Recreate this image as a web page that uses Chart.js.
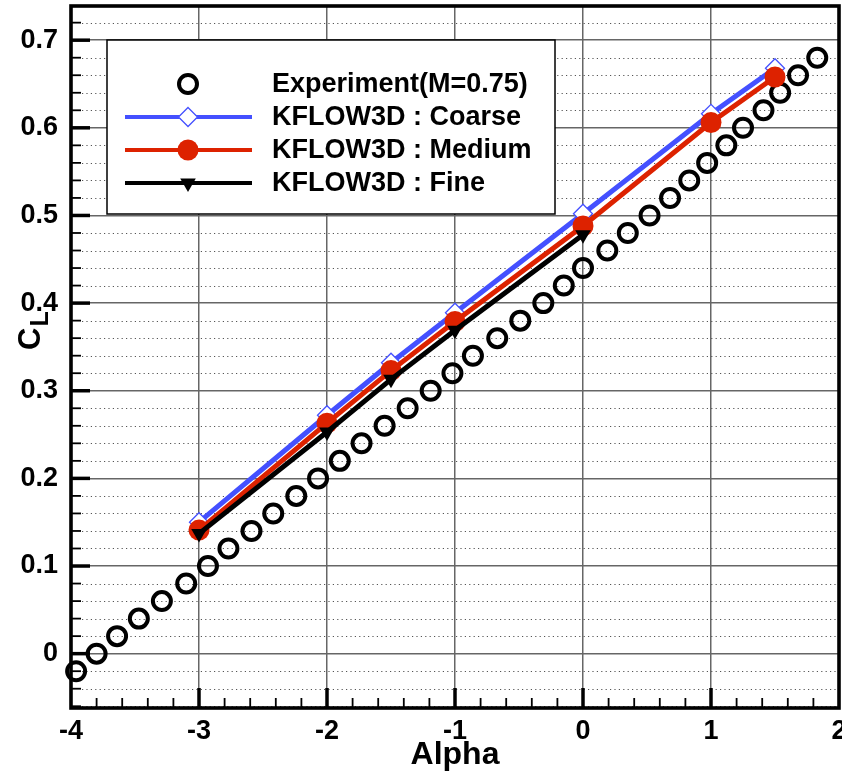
<!DOCTYPE html>
<html><head><meta charset="utf-8">
<script src="https://cdn.jsdelivr.net/npm/chart.js@4.4.1/dist/chart.umd.min.js"></script>
<style>html,body{margin:0;padding:0;background:#fff;} canvas{display:block;}</style>
</head><body>
<canvas id="c" width="842" height="774"></canvas>
<script>
// ---- data ----
const expAlpha = [-3.96,-3.8,-3.64,-3.47,-3.29,-3.1,-2.93,-2.77,-2.59,-2.42,-2.24,-2.07,-1.9,-1.73,-1.55,-1.37,-1.19,-1.02,-0.86,-0.67,-0.49,-0.31,-0.15,0.0,0.19,0.35,0.52,0.68,0.83,0.97,1.12,1.25,1.41,1.54,1.68,1.83];
const expCL = [-0.02,0.0,0.02,0.04,0.06,0.08,0.10,0.12,0.14,0.16,0.18,0.20,0.22,0.24,0.26,0.28,0.30,0.32,0.34,0.36,0.38,0.40,0.42,0.44,0.46,0.48,0.50,0.52,0.54,0.56,0.58,0.60,0.62,0.64,0.66,0.68];
const simAlpha = [-3,-2,-1.5,-1,0,1,1.5];
const coarseCL = [0.150,0.272,0.332,0.389,0.502,0.616,0.668];
const mediumCL = [0.141,0.263,0.323,0.379,0.488,0.606,0.658];
const fineAlpha = [-3,-2,-1.5,-1,0];
const fineCL = [0.137,0.253,0.313,0.369,0.478];
const xTicks = [-4,-3,-2,-1,0,1,2];
const xTickLabels = ['-4','-3','-2','-1','0','1','2'];
const yTicks = [0,0.1,0.2,0.3,0.4,0.5,0.6,0.7];
const yTickLabels = ['0','0.1','0.2','0.3','0.4','0.5','0.6','0.7'];
const seriesNames = ['Experiment(M=0.75)','KFLOW3D : Coarse','KFLOW3D : Medium','KFLOW3D : Fine'];
const xRange = [-4, 2];
const yRange = [-0.062, 0.739];
const xMinorStep = 0.2, yMinorStep = 0.02;

const FONT = '"Liberation Sans", Arial, Helvetica, sans-serif';
Chart.defaults.font.family = FONT;
Chart.defaults.color = '#000';

const toXY = (xs, ys) => xs.map((x, i) => ({x: x, y: ys[i]}));

function drawMarker(ctx, style, x, y, r, rot, fill, stroke, bw) {
  ctx.save();
  ctx.translate(x, y);
  ctx.rotate(rot * Math.PI / 180);
  ctx.beginPath();
  if (style === 'circle') {
    ctx.arc(0, 0, r, 0, Math.PI * 2);
  } else if (style === 'rectRot') {
    ctx.moveTo(0, -r); ctx.lineTo(r, 0); ctx.lineTo(0, r); ctx.lineTo(-r, 0); ctx.closePath();
  } else if (style === 'triangle') {
    for (let k = 0; k < 3; k++) {
      const a = k * 2 * Math.PI / 3;
      const px = Math.sin(a) * r, py = -Math.cos(a) * r;
      if (k === 0) ctx.moveTo(px, py); else ctx.lineTo(px, py);
    }
    ctx.closePath();
  }
  if (fill && fill !== 'transparent') { ctx.fillStyle = fill; ctx.fill(); }
  if (bw > 0) { ctx.lineWidth = bw; ctx.strokeStyle = stroke; ctx.stroke(); }
  ctx.restore();
}

const decor = {
  id: 'decor',
  beforeDatasetsDraw(chart) {
    const {ctx, chartArea: a, scales: {x, y}} = chart;
    ctx.save();
    // dotted minor horizontal grid
    ctx.strokeStyle = '#555';
    ctx.lineWidth = 1;
    ctx.setLineDash([1.2, 3.2]);
    const kMin = Math.ceil(yRange[0] / yMinorStep), kMax = Math.floor(yRange[1] / yMinorStep);
    for (let k = kMin; k <= kMax; k++) {
      if (k % 5 === 0) continue;
      const py = Math.round(y.getPixelForValue(k * yMinorStep)) + 0.5;
      ctx.beginPath(); ctx.moveTo(a.left + 11, py); ctx.lineTo(a.right, py); ctx.stroke();
    }
    ctx.setLineDash([]);
    ctx.strokeStyle = '#000';
    // left axis ticks (inward)
    for (let k = kMin; k <= kMax; k++) {
      const py = y.getPixelForValue(k * yMinorStep);
      const major = k % 5 === 0;
      ctx.lineWidth = major ? 3.5 : 1.8;
      ctx.beginPath(); ctx.moveTo(a.left, py); ctx.lineTo(a.left + (major ? 19 : 10), py); ctx.stroke();
    }
    // bottom axis ticks (inward)
    const jMin = Math.round(xRange[0] / xMinorStep), jMax = Math.round(xRange[1] / xMinorStep);
    for (let j = jMin + 1; j < jMax; j++) {
      const px = x.getPixelForValue(j * xMinorStep);
      const major = j % 5 === 0;
      ctx.lineWidth = major ? 3.5 : 1.8;
      ctx.beginPath(); ctx.moveTo(px, a.bottom); ctx.lineTo(px, a.bottom - (major ? 20 : 10)); ctx.stroke();
    }
    ctx.restore();
  },
  afterDatasetsDraw(chart) {
    const {ctx, chartArea: a} = chart;
    ctx.save();
    ctx.strokeStyle = '#000';
    ctx.lineWidth = 3.6;
    ctx.strokeRect(a.left, a.top, a.right - a.left, a.bottom - a.top);
    ctx.restore();
  },
  afterDraw(chart) {
    const {ctx} = chart;
    ctx.save();
    // legend box
    const bx = 107, by = 40, bw = 448, bh = 174;
    ctx.fillStyle = '#fff';
    ctx.fillRect(bx, by, bw, bh);
    ctx.strokeStyle = '#000';
    ctx.lineWidth = 1.5;
    ctx.strokeRect(bx, by, bw, bh);
    const rows = [84, 117, 150, 183];
    ctx.font = 'bold 27px ' + FONT;
    ctx.textBaseline = 'middle';
    ctx.textAlign = 'left';
    chart.data.datasets.forEach((ds, i) => {
      const ry = rows[i];
      if (ds.showLine !== false) {
        ctx.strokeStyle = ds.borderColor;
        ctx.lineWidth = 4;
        ctx.beginPath(); ctx.moveTo(125, ry); ctx.lineTo(252, ry); ctx.stroke();
      }
      drawMarker(ctx, ds.pointStyle, 188, ry, ds.pointRadius, ds.pointRotation || 0,
        ds.pointBackgroundColor, ds.pointBorderColor, ds.pointBorderWidth);
      ctx.fillStyle = '#000';
      ctx.fillText(ds.label, 272, ry + 1);
    });
    // y axis title CL with subscript
    ctx.translate(31, 350);
    ctx.rotate(-Math.PI / 2);
    ctx.fillStyle = '#000';
    ctx.textBaseline = 'middle';
    ctx.font = 'bold 31px ' + FONT;
    ctx.fillText('C', 0, 0);
    const cw = ctx.measureText('C').width;
    ctx.font = 'bold 25px ' + FONT;
    ctx.fillText('L', cw + 1, 10);
    ctx.restore();
  }
};

new Chart(document.getElementById('c'), {
  type: 'line',
  data: {
    datasets: [
      {label: seriesNames[0], data: toXY(expAlpha, expCL), showLine: false,
       pointStyle: 'circle', pointRadius: 9, pointBorderWidth: 4,
       pointBorderColor: '#000', pointBackgroundColor: 'transparent',
       borderColor: '#000', backgroundColor: 'transparent', clip: false, order: 4},
      {label: seriesNames[1], data: toXY(simAlpha, coarseCL),
       borderColor: '#4450ff', borderWidth: 5, pointStyle: 'rectRot', pointRadius: 9.5,
       pointBorderWidth: 1.3, pointBorderColor: '#4450ff', pointBackgroundColor: '#fff', order: 3},
      {label: seriesNames[2], data: toXY(simAlpha, mediumCL),
       borderColor: '#dd2200', borderWidth: 5, pointStyle: 'circle', pointRadius: 10.5,
       pointBorderWidth: 0, pointBorderColor: '#dd2200', pointBackgroundColor: '#dd2200', order: 2},
      {label: seriesNames[3], data: toXY(fineAlpha, fineCL),
       borderColor: '#000', borderWidth: 5, pointStyle: 'triangle', pointRotation: 180, pointRadius: 9,
       pointBorderWidth: 0, pointBorderColor: '#000', pointBackgroundColor: '#000', order: 1}
    ]
  },
  options: {
    responsive: false,
    devicePixelRatio: 1,
    animation: false,
    events: [],
    layout: {autoPadding: false, padding: {left: 0, right: 3, top: 6, bottom: 0}},
    plugins: {legend: {display: false}, tooltip: {enabled: false}, title: {display: false}},
    scales: {
      x: {
        type: 'linear', min: xRange[0], max: xRange[1],
        afterBuildTicks: s => { s.ticks = xTicks.map(v => ({value: v})); },
        afterFit: s => { s.height = 66; s.paddingLeft = 0; s.paddingRight = 0; },
        grid: {color: '#666', lineWidth: 1.5, drawTicks: false},
        border: {display: false},
        ticks: {autoSkip: false, maxRotation: 0, padding: 7, color: '#000',
                font: {size: 27, weight: 'bold'},
                callback: (v, i) => xTickLabels[i]},
        title: {display: true, text: 'Alpha', color: '#000',
                font: {size: 32, weight: 'bold'}, padding: {top: 0, bottom: 0}}
      },
      y: {
        type: 'linear', min: yRange[0], max: yRange[1],
        afterBuildTicks: s => { s.ticks = yTicks.map(v => ({value: v})); },
        afterFit: s => { s.width = 71; s.paddingTop = 0; s.paddingBottom = 0; },
        grid: {color: '#666', lineWidth: 1.5, drawTicks: false},
        border: {display: false},
        ticks: {autoSkip: false, padding: 13, color: '#000',
                font: {size: 27, weight: 'bold'},
                callback: (v, i) => yTickLabels[i]}
      }
    }
  },
  plugins: [decor]
});
</script>
</body></html>
